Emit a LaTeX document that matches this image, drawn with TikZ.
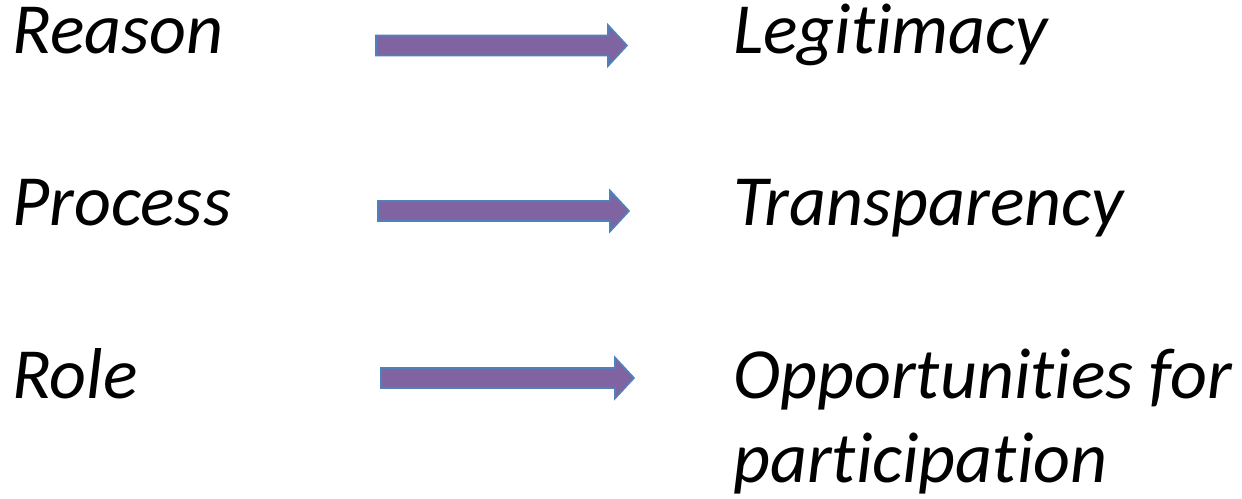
\documentclass[tikz,border=0pt]{standalone}
\usepackage{fontspec}
\setmainfont{Carlito}[Ligatures={NoCommon,NoRequired,NoContextual},Contextuals=NoAlternate]
\usetikzlibrary{calc}
\definecolor{arrowfill}{HTML}{8064A2}
\definecolor{arrowline}{HTML}{4F81BD}
\begin{document}
\begin{tikzpicture}[x=1pt,y=-1pt,
  term/.style={anchor=base west, inner sep=0pt, align=left,
    font=\fontsize{72}{84}\selectfont\itshape},
  flowarrow/.style={draw=arrowline, fill=arrowfill, line width=1.6pt,
    line join=miter,
    to path={let \p1=(\tikztostart), \p2=(\tikztotarget) in
      (\x1,\y1+10) -- (\x2-19,\y1+10) -- (\x2-19,\y1+20.5) -- (\x2,\y1)
      -- (\x2-19,\y1-20.5) -- (\x2-19,\y1-10) -- (\x1,\y1-10) -- cycle}}]
  \useasboundingbox (0,0) rectangle (1242,498);

  % left column
  \node[term] (reason)  at (12,53)  {Reason};
  \node[term] (process) at (12,225) {Process};
  \node[term] (role)    at (12,398) {Role};

  % right column (a two-line node sits on the baseline of its last line)
  \node[term] (legit)  at (733,53)  {Legitimacy};
  \node[term] (transp) at (733,225) {Transparency};
  \node[term] (oppo)   at (733,482) {Opportunities for\\participation};

  % arrow ends
  \coordinate (a1s) at (376,45.5);
  \coordinate (a1e) at (627,45.5);
  \coordinate (a2s) at (378,211);
  \coordinate (a2e) at (629,211);
  \coordinate (a3s) at (381,378);
  \coordinate (a3e) at (634,378);

  \draw[flowarrow] (a1s) to (a1e);
  \draw[flowarrow] (a2s) to (a2e);
  \draw[flowarrow] (a3s) to (a3e);
\end{tikzpicture}
\end{document}
